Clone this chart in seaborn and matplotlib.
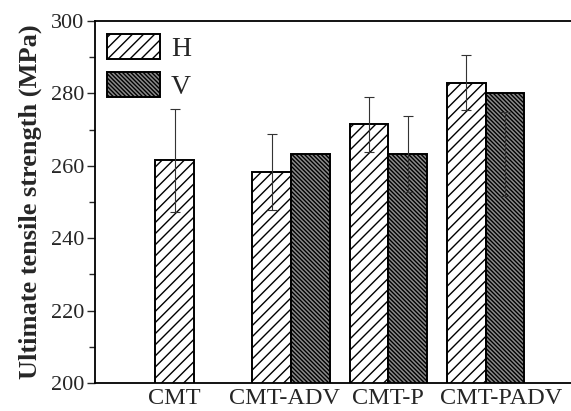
import matplotlib
matplotlib.use('Agg')
import matplotlib.pyplot as plt
import matplotlib.transforms as mtransforms
import numpy as np
import pandas as pd
import seaborn as sns
from matplotlib.ticker import MultipleLocator

# data
categories = ['CMT', 'CMT-ADV', 'CMT-P', 'CMT-PADV']
h_mean = [261.5, 258.3, 271.5, 283.0]
h_err = [14.3, 10.4, 7.6, 7.6]
v_mean = [np.nan, 263.2, 263.2, 280.0]
v_err = [np.nan, 10.5, 11.6, 13.0]
directions = ['H', 'V']

df = pd.DataFrame({
    'cat': categories * 2,
    'dir': ['H'] * 4 + ['V'] * 4,
    'val': h_mean + v_mean,
})

sns.set_style('ticks')
plt.rcParams['font.family'] = ['Liberation Serif', 'DejaVu Serif']
plt.rcParams['hatch.linewidth'] = 1.0

fig = plt.figure(figsize=(5.71, 4.11), dpi=100)
ax = fig.add_axes([95 / 571, 1 - 383 / 411, 1 - 95 / 571, (383 - 21) / 411])

sns.barplot(data=df, x='cat', y='val', hue='dir', order=categories,
            hue_order=directions, palette=['white', '#8a8a8a'],
            errorbar=None, width=0.8, ax=ax, legend=False)

# hatch and edges per series
styles = {'H': ('white', '///'), 'V': ('#8a8a8a', '\\' * 8)}
for cont, d in zip(ax.containers, directions):
    fc, hatch = styles[d]
    for p in cont.patches:
        p.set_facecolor(fc)
        p.set_edgecolor('black')
        p.set_linewidth(1.4)
        p.set_hatch(hatch)

# error bars at the bar centres
for cont, means, errs in zip(ax.containers, [h_mean, v_mean], [h_err, v_err]):
    xs = [p.get_x() + p.get_width() / 2 for p in cont.patches]
    for x, m, e in zip(xs, means, errs):
        if np.isnan(m):
            continue
        ax.errorbar(x, m, yerr=e, fmt='none', ecolor='#333333',
                    elinewidth=0.8, capsize=3.6, capthick=0.8, zorder=5)

# tick positions: CMT label under its single bar
h_centres = [p.get_x() + p.get_width() / 2 for p in ax.containers[0].patches]
tick_pos = [h_centres[0], 1, 2, 3]
ax.set_xticks(tick_pos)
ax.set_xticklabels(categories, fontsize=17.5)
ax.tick_params(axis='x', length=0, pad=3.5)

# nudge labels sideways as in the original so they don't collide
label_shift = [0, -5, 0, 11]  # points
for lbl, dx in zip(ax.get_xticklabels(), label_shift):
    off = mtransforms.ScaledTranslation(dx / 72, 0, fig.dpi_scale_trans)
    lbl.set_transform(lbl.get_transform() + off)

ax.set_ylim(200, 300)
ax.set_xlim(-1.02, 3.88)
ax.yaxis.set_major_locator(MultipleLocator(20))
ax.yaxis.set_minor_locator(MultipleLocator(10))
ax.tick_params(axis='y', which='major', length=6, width=1, labelsize=16,
               direction='out', pad=2)
ax.tick_params(axis='y', which='minor', length=4, width=1, direction='out')

ax.set_xlabel('')
ax.set_ylabel('Ultimate tensile strength (MPa)', fontsize=19,
              fontweight='bold', labelpad=6)

for s in ['left', 'bottom', 'top']:
    ax.spines[s].set_linewidth(1.3)
    ax.spines[s].set_color('black')
ax.spines['right'].set_visible(False)

# legend with hatched handles
handles = [ax.containers[0].patches[0], ax.containers[1].patches[1]]
ax.legend(handles, directions, loc='upper left',
          bbox_to_anchor=(0.025, 0.964), frameon=False, fontsize=20,
          handlelength=1.9, handleheight=1.0, handletextpad=0.4,
          labelspacing=0.35, borderpad=0, borderaxespad=0)

fig.savefig('out.png', dpi=100, facecolor='white')
